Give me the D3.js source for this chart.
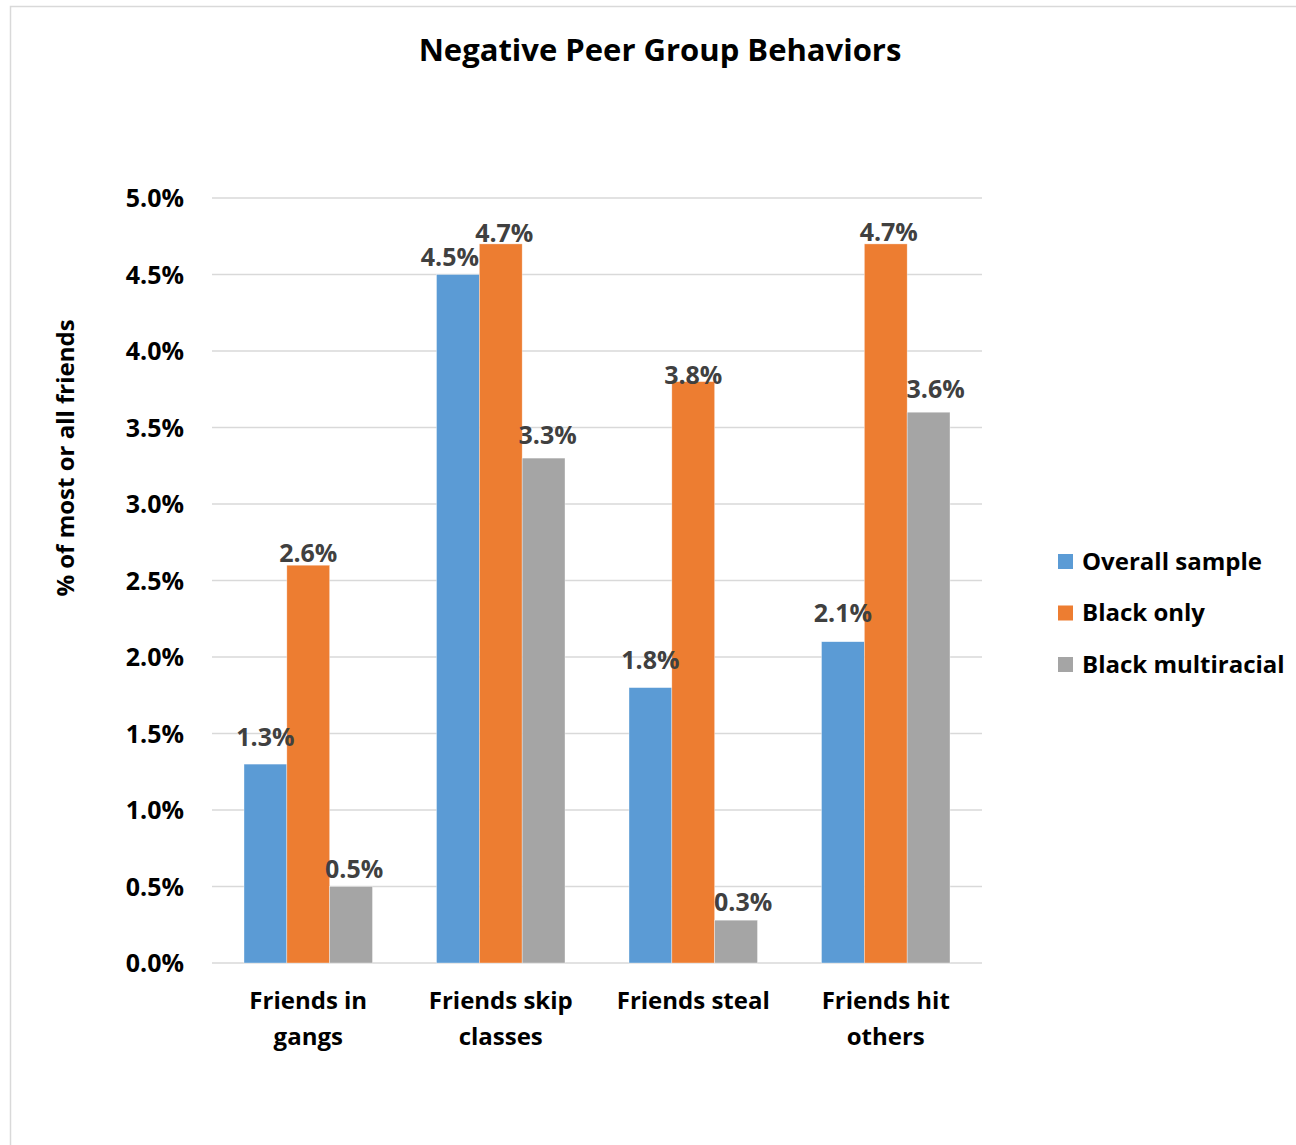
<!DOCTYPE html>
<html>
<head>
<meta charset="utf-8">
<script src="https://cdn.jsdelivr.net/npm/d3@7"></script>
<style>
  body { margin: 0; background: #fff; }
  text { font-family: "Open Sans", Lato, sans-serif; font-weight: bold; }
</style>
</head>
<body>
<svg id="chart" width="1296" height="1145"></svg>
<script>
const categories = [["Friends in", "gangs"], ["Friends skip", "classes"], ["Friends steal"], ["Friends hit", "others"]];
const seriesNames = ["Overall sample", "Black only", "Black multiracial"];
const overallSample = [1.3, 4.5, 1.8, 2.1];
const blackOnly = [2.6, 4.7, 3.8, 4.7];
const blackMultiracial = [0.5, 3.3, 0.28, 3.6];
const yTicks = [0, 0.5, 1.0, 1.5, 2.0, 2.5, 3.0, 3.5, 4.0, 4.5, 5.0];
const colors = ["#5b9bd5", "#ed7d31", "#a5a5a5"];

// hand placed data labels (dx, dy of label centre from bar top), like the original
const labelNudge = [
  [[0, -27], [-8, -17.5], [0, -27.5], [0, -29]],
  [[0, -12.5], [3.5, -11], [0, -7], [3, -12]],
  [[3, -17.5], [4, -23], [7, -18], [7, -23]]
];

let svg = d3.select("#chart");
let series = [overallSample, blackOnly, blackMultiracial];

// chart frame
svg.append("rect")
  .attr("x", 10.5).attr("y", 6.5)
  .attr("width", 1400).attr("height", 1400)
  .attr("fill", "none")
  .attr("stroke", "#d9d9d9")
  .attr("stroke-width", 1.5);

let plotLeft = 212, plotRight = 982, plotTop = 198, plotBottom = 963;

let x0 = d3.scaleBand()
  .domain(d3.range(categories.length))
  .range([plotLeft, plotRight])
  .paddingInner(64 / 192.5)
  .paddingOuter(32 / 192.5);

let x1 = d3.scaleBand()
  .domain(d3.range(seriesNames.length))
  .range([0, x0.bandwidth()]);

let y = d3.scaleLinear().domain([0, 5]).range([plotBottom, plotTop]);

// gridlines
svg.append("g")
  .selectAll("line")
  .data(yTicks)
  .enter()
  .append("line")
  .attr("x1", plotLeft).attr("x2", plotRight)
  .attr("y1", d => y(d)).attr("y2", d => y(d))
  .attr("stroke", "#d9d9d9")
  .attr("stroke-width", 1.5);

// y tick labels
svg.append("g")
  .selectAll("text")
  .data(yTicks)
  .enter()
  .append("text")
  .attr("x", 184)
  .attr("y", d => y(d))
  .attr("dy", "0.36em")
  .attr("text-anchor", "end")
  .style("font-size", "25px")
  .style("fill", "#000")
  .text(d => d.toFixed(1) + "%");

// bars
let groups = svg.append("g")
  .selectAll("g")
  .data(categories)
  .enter()
  .append("g")
  .attr("transform", (d, i) => "translate(" + x0(i) + ",0)");

groups.selectAll("rect")
  .data((d, i) => series.map((s, j) => ({ s: j, c: i, v: s[i] })))
  .enter()
  .append("rect")
  .attr("x", d => x1(d.s))
  .attr("y", d => y(d.v))
  .attr("width", x1.bandwidth())
  .attr("height", d => plotBottom - y(d.v))
  .attr("fill", d => colors[d.s])
  .attr("stroke", "#fff")
  .attr("stroke-width", 0.6)
  .attr("stroke-opacity", 0.6);

// value labels
groups.selectAll("text.val")
  .data((d, i) => series.map((s, j) => ({ s: j, c: i, v: s[i] })))
  .enter()
  .append("text")
  .attr("class", "val")
  .attr("x", d => x1(d.s) + x1.bandwidth() / 2 + labelNudge[d.s][d.c][0])
  .attr("y", d => y(d.v) + labelNudge[d.s][d.c][1] + 9)
  .attr("text-anchor", "middle")
  .style("font-size", "25px")
  .style("fill", "#404040")
  .text(d => d.v.toFixed(1) + "%");

// category labels
svg.append("g")
  .selectAll("text")
  .data(categories)
  .enter()
  .append("text")
  .attr("x", (d, i) => x0(i) + x0.bandwidth() / 2)
  .attr("y", 1009)
  .attr("text-anchor", "middle")
  .style("font-size", "24px")
  .style("fill", "#000")
  .selectAll("tspan")
  .data(d => d)
  .enter()
  .append("tspan")
  .attr("x", function() { return d3.select(this.parentNode).attr("x"); })
  .attr("dy", (d, i) => i === 0 ? 0 : 36)
  .text(d => d);

// title
svg.append("text")
  .attr("x", 660)
  .attr("y", 61)
  .attr("text-anchor", "middle")
  .style("font-size", "31px")
  .style("fill", "#000")
  .text("Negative Peer Group Behaviors");

// y axis title
svg.append("text")
  .attr("transform", "translate(74,458) rotate(-90)")
  .attr("text-anchor", "middle")
  .style("font-size", "24px")
  .style("fill", "#000")
  .text("% of most or all friends");

// legend
let legend = svg.append("g")
  .selectAll("g")
  .data(seriesNames)
  .enter()
  .append("g")
  .attr("transform", (d, i) => "translate(1058," + (561 + i * 51.5) + ")");

legend.append("rect")
  .attr("x", 0).attr("y", -7)
  .attr("width", 15).attr("height", 15)
  .attr("fill", (d, i) => colors[i]);

legend.append("text")
  .attr("x", 24)
  .attr("y", 0)
  .attr("dy", "0.36em")
  .style("font-size", "24px")
  .style("fill", "#000")
  .text(d => d);
</script>
</body>
</html>
